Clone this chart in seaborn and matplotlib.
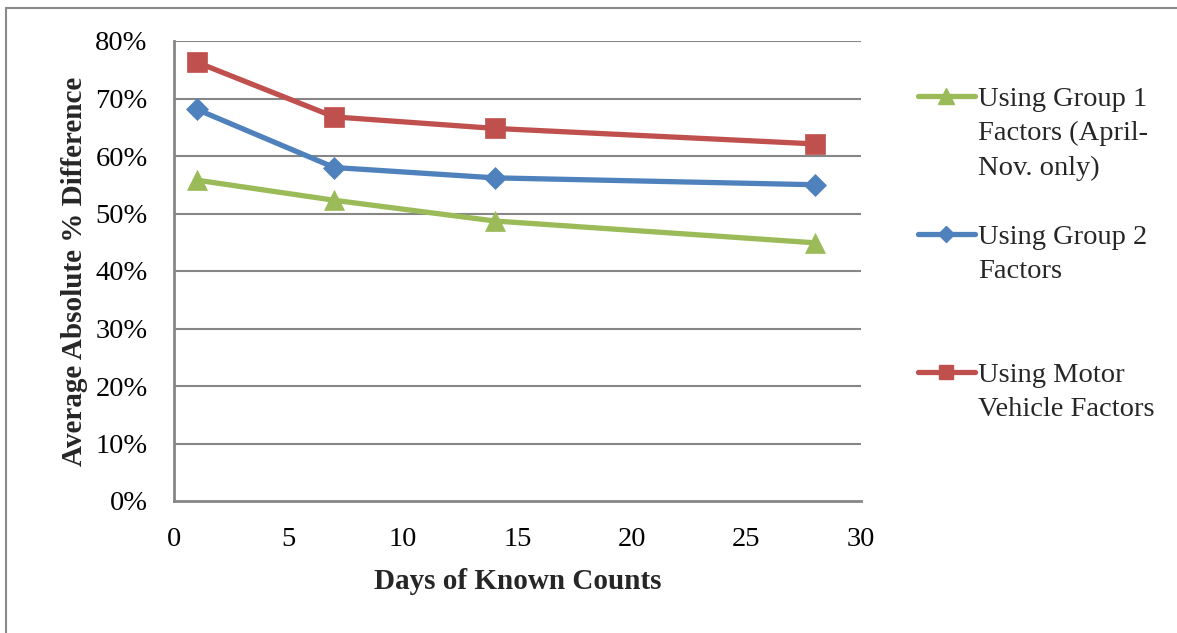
import matplotlib
matplotlib.use("Agg")
import matplotlib.pyplot as plt
from matplotlib.lines import Line2D
from matplotlib.ticker import FuncFormatter
import seaborn as sns
import pandas as pd

days = [1, 7, 14, 28]
group1 = [0.558, 0.523, 0.487, 0.449]
group2 = [0.681, 0.580, 0.562, 0.550]
motor = [0.763, 0.668, 0.648, 0.621]

series_names = ["Using Group 1 Factors (April-Nov. only)",
                "Using Group 2 Factors",
                "Using Motor Vehicle Factors"]
legend_lines = [["Using Group 1", "Factors (April-", "Nov. only)"],
                ["Using Group 2", "Factors"],
                ["Using Motor", "Vehicle Factors"]]
colors = ["#9BBB59", "#4F81BD", "#C0504D"]
markers = ["^", "D", "s"]
msizes = [15, 11, 14]

x_ticks = [0, 5, 10, 15, 20, 25, 30]
y_ticks = [0, 0.1, 0.2, 0.3, 0.4, 0.5, 0.6, 0.7, 0.8]
xlabel = "Days of Known Counts"
ylabel = "Average Absolute % Difference"

sns.set_theme(style="white")
plt.rcParams["font.family"] = ["Liberation Serif", "DejaVu Serif"]

fig = plt.figure(figsize=(11.77, 6.33), dpi=100)
ax = fig.add_axes([174/1177, 1 - 501/633, (861-174)/1177, (501-41)/633])

grid_c = "#868686"
for val in y_ticks[1:]:
    ax.axhline(val, color=grid_c, lw=1.5, zorder=0)

values = [group1, group2, motor]
handles = []
for name, vals, c, m, ms in zip(series_names, values, colors, markers, msizes):
    df = pd.DataFrame({"x": days, "y": vals})
    sns.lineplot(data=df, x="x", y="y", ax=ax, color=c, lw=3.8, marker=m,
                 markersize=ms, markeredgecolor=c, markeredgewidth=0.5,
                 zorder=3, label=name, legend=False)
    handles.append(Line2D([], [], color=c, lw=3.8, marker=m,
                          markersize=ms * 0.75, markeredgecolor=c))

ax.set_xlim(0, 30)
ax.set_ylim(0, 0.8)
ax.set_xticks(x_ticks)
ax.set_yticks(y_ticks)
ax.yaxis.set_major_formatter(FuncFormatter(lambda v, p: f"{v*100:.0f}%"))
for s in ["top", "right"]:
    ax.spines[s].set_visible(False)
for s in ["left", "bottom"]:
    ax.spines[s].set_color(grid_c)
    ax.spines[s].set_linewidth(2)
ax.tick_params(axis="both", which="major", direction="out", color=grid_c,
               width=1.5, labelsize=20.5, labelcolor="black")
ax.tick_params(axis="y", length=7, pad=12)
ax.tick_params(axis="x", length=6, pad=13)
ax.set_xlabel(xlabel, fontsize=21, fontweight="bold", labelpad=11)
ax.set_ylabel(ylabel, fontsize=21, fontweight="bold", labelpad=5)
ax.set_facecolor("white")

# legend with multi-line labels, handle next to first line
blank = Line2D([], [], linestyle="none")
leg_handles, leg_labels = [], []
gaps = [1, 2, 0]
for h, lines, g in zip(handles, legend_lines, gaps):
    leg_handles.append(h)
    leg_labels.append(lines[0])
    for ln in lines[1:]:
        leg_handles.append(blank)
        leg_labels.append(ln)
    for _ in range(g):
        leg_handles.append(blank)
        leg_labels.append(" ")
fig.legend(leg_handles, leg_labels, loc="upper left",
           bbox_to_anchor=(918/1177, 1 - 86/633), frameon=False,
           fontsize=20.5, handlelength=2.0, handletextpad=0.1,
           labelspacing=0.30, borderpad=0, borderaxespad=0)

# outer frame
fig.add_artist(Line2D([6/1177, 6/1177], [0, 1 - 8/633], transform=fig.transFigure,
                      color="#8a8a8a", lw=1.5))
fig.add_artist(Line2D([6/1177, 1], [1 - 8/633, 1 - 8/633], transform=fig.transFigure,
                      color="#8a8a8a", lw=1.5))

fig.savefig("out.png", dpi=100, facecolor="white")
